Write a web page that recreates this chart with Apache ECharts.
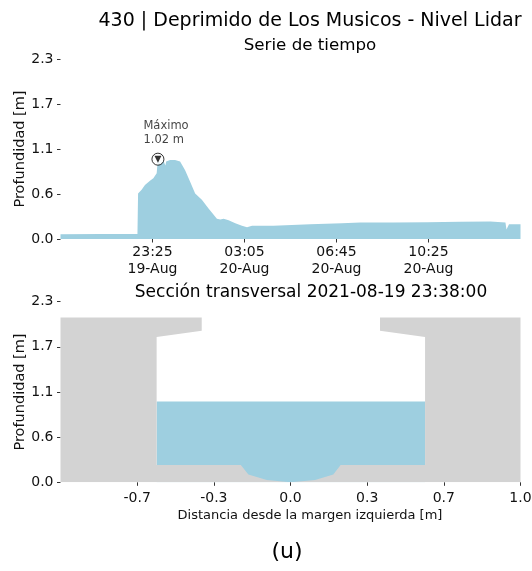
<!DOCTYPE html>
<html><head><meta charset="utf-8">
<script src="https://cdn.jsdelivr.net/npm/echarts@6/dist/echarts.min.js"></script>
<style>html,body{margin:0;padding:0;background:#fff}#c{width:532px;height:571px}</style>
</head><body><div id="c"></div>
<script>
const FONT = 'DejaVu Sans';
const mainTitle = '430 | Deprimido de Los Musicos - Nivel Lidar';
const topTitle = 'Serie de tiempo';
const bottomTitle = 'Sección transversal 2021-08-19 23:38:00';
const panelTag = '(u)';

// Time series: minutes since 2021-08-19 19:45
const tsMinutes = [0, 95, 184, 185.5, 194, 202, 214, 222, 230, 231.7, 233, 238, 242, 246, 249.5, 251, 252.6, 256, 262, 266, 274, 286, 298, 310, 322, 338, 354, 374, 382, 390, 402, 418, 434, 446, 458, 502, 509, 597, 673, 675, 717, 796, 877, 956, 1028, 1064, 1066.5, 1070, 1072.5, 1100];
const tsDepth = [0.06, 0.065, 0.065, 0.58, 0.63, 0.69, 0.745, 0.775, 0.84, 0.95, 1.02, 0.96, 0.97, 1.0, 0.99, 0.94, 0.99, 1.0, 1.01, 1.0, 1.01, 0.99, 0.88, 0.73, 0.58, 0.50, 0.39, 0.26, 0.25, 0.26, 0.24, 0.20, 0.17, 0.15, 0.17, 0.17, 0.17, 0.19, 0.20, 0.225, 0.21, 0.21, 0.215, 0.22, 0.225, 0.21, 0.12, 0.12, 0.19, 0.19];
const tsRange = [0, 1100];
const tsTickValues = [220, 440, 660, 880];
const tsTickLabels = ['23:25\n19-Aug', '03:05\n20-Aug', '06:45\n20-Aug', '10:25\n20-Aug'];
const maxPoint = [233, 1.02];
const maxLabel = 'Máximo\n1.02 m';

const yRange = [0, 2.3];
const yTickValues = [0, 0.575, 1.15, 1.725, 2.3];
const yTickLabels = ['0.0', '0.6', '1.1', '1.7', '2.3'];

// Cross section
const secX = [-1, -0.386, -0.386, -0.582, -0.582, -0.216, -0.183, -0.103, 0, 0.107, 0.186, 0.218, 0.585, 0.585, 0.389, 0.389, 1];
const secY = [2.10, 2.10, 1.93, 1.85, 0.22, 0.22, 0.10, 0.03, 0.0, 0.03, 0.10, 0.22, 0.22, 1.85, 1.93, 2.10, 2.10];
const waterX = [-0.582, 0.585];
const waterLevel = 1.03;
const secRange = [-1, 1];
const secTickValues = [-2/3, -1/3, 0, 1/3, 2/3, 1];
const secTickLabels = ['-0.7', '-0.3', '0.0', '0.3', '0.7', '1.0'];

const BLUE = '#9ecfe0';
const GRAY = '#d3d3d3';
const TXT = '#111';

function lookup(vals, labels) {
  return function (v) {
    for (let i = 0; i < vals.length; i++) if (Math.abs(vals[i] - v) < 1e-6) return labels[i];
    return '';
  };
}

function yAxisCfg(gi) {
  return {
    gridIndex: gi, type: 'value', min: yRange[0], max: yRange[1],
    name: 'Profundidad [m]', nameLocation: 'middle', nameGap: 33, nameMoveOverlap: false,
    nameTextStyle: { fontFamily: FONT, fontSize: 14.5, color: TXT },
    axisLine: { show: false, onZero: false }, splitLine: { show: false },
    axisTick: { show: true, length: 3.5, customValues: yTickValues, lineStyle: { color: '#333', width: 1 } },
    axisLabel: { customValues: yTickValues, formatter: lookup(yTickValues, yTickLabels), fontFamily: FONT, fontSize: 14, color: TXT, margin: 7 }
  };
}

const tsData = tsMinutes.map((m, i) => [m, tsDepth[i]]);
const secData = secX.map((x, i) => [x, secY[i]]);
const waterData = waterX.map(x => [x, waterLevel]);

const titleStyle = (size) => ({ fontFamily: FONT, fontSize: size, fontWeight: 'normal', color: '#000' });

const option = {
  animation: false,
  backgroundColor: '#fff',
  title: [
    { text: mainTitle, left: 310, top: 12, textAlign: 'center', padding: 0, textStyle: titleStyle(19) },
    { text: topTitle, left: 310, top: 37, textAlign: 'center', padding: 0, textStyle: titleStyle(16.7) },
    { text: bottomTitle, left: 311, top: 284, textAlign: 'center', padding: 0, textStyle: titleStyle(17) },
    { text: panelTag, left: 287, top: 541, textAlign: 'center', padding: 0, textStyle: titleStyle(22) }
  ],
  grid: [
    { left: 60.5, top: 59, width: 460, height: 180, outerBoundsMode: 'none', containLabel: false },
    { left: 60.5, top: 301.7, width: 460, height: 180.6, outerBoundsMode: 'none', containLabel: false }
  ],
  xAxis: [
    {
      gridIndex: 0, type: 'value', min: tsRange[0], max: tsRange[1],
      axisLine: { show: false, onZero: false }, splitLine: { show: false },
      axisTick: { show: true, length: 3.5, customValues: tsTickValues, lineStyle: { color: '#333' } },
      axisLabel: { customValues: tsTickValues, formatter: lookup(tsTickValues, tsTickLabels), fontFamily: FONT, fontSize: 14, color: TXT, margin: 5, lineHeight: 16.7 }
    },
    {
      gridIndex: 1, type: 'value', min: secRange[0], max: secRange[1],
      name: 'Distancia desde la margen izquierda [m]', nameLocation: 'middle', nameGap: 27, nameMoveOverlap: false,
      nameTextStyle: { fontFamily: FONT, fontSize: 13, color: TXT, padding: [0, 0, 0, 39] },
      axisLine: { show: false, onZero: false }, splitLine: { show: false },
      axisTick: { show: true, length: 3.5, customValues: secTickValues, lineStyle: { color: '#333' } },
      axisLabel: { customValues: secTickValues, formatter: lookup(secTickValues, secTickLabels), fontFamily: FONT, fontSize: 14, color: TXT, margin: 9 }
    }
  ],
  yAxis: [yAxisCfg(0), yAxisCfg(1)],
  series: [
    {
      type: 'line', xAxisIndex: 0, yAxisIndex: 0, data: tsData, symbol: 'none', smooth: false,
      lineStyle: { width: 0, opacity: 0 }, areaStyle: { color: BLUE, opacity: 1 }, z: 2
    },
    {
      type: 'scatter', xAxisIndex: 0, yAxisIndex: 0, data: [maxPoint], symbol: 'circle', symbolSize: 12,
      itemStyle: { color: '#fff', borderColor: '#000', borderWidth: 1 }, z: 5,
      label: { show: true, formatter: maxLabel, position: [-8, -33], align: 'left', verticalAlign: 'top', fontFamily: FONT, fontSize: 11.5, lineHeight: 13.3, color: TXT }
    },
    {
      type: 'scatter', xAxisIndex: 0, yAxisIndex: 0, data: [maxPoint], symbol: 'triangle', symbolRotate: 180, symbolSize: 7,
      itemStyle: { color: '#000' }, z: 6
    },
    {
      type: 'line', xAxisIndex: 1, yAxisIndex: 1, data: waterData, symbol: 'none',
      lineStyle: { width: 0, opacity: 0 }, areaStyle: { color: BLUE, opacity: 1 }, z: 2
    },
    {
      type: 'line', xAxisIndex: 1, yAxisIndex: 1, data: secData, symbol: 'none',
      lineStyle: { width: 0, opacity: 0 }, areaStyle: { color: GRAY, opacity: 1 }, z: 3
    }
  ]
};

const chart = echarts.init(document.getElementById('c'), null, { renderer: 'canvas' });
chart.setOption(option);
</script>
</body></html>
